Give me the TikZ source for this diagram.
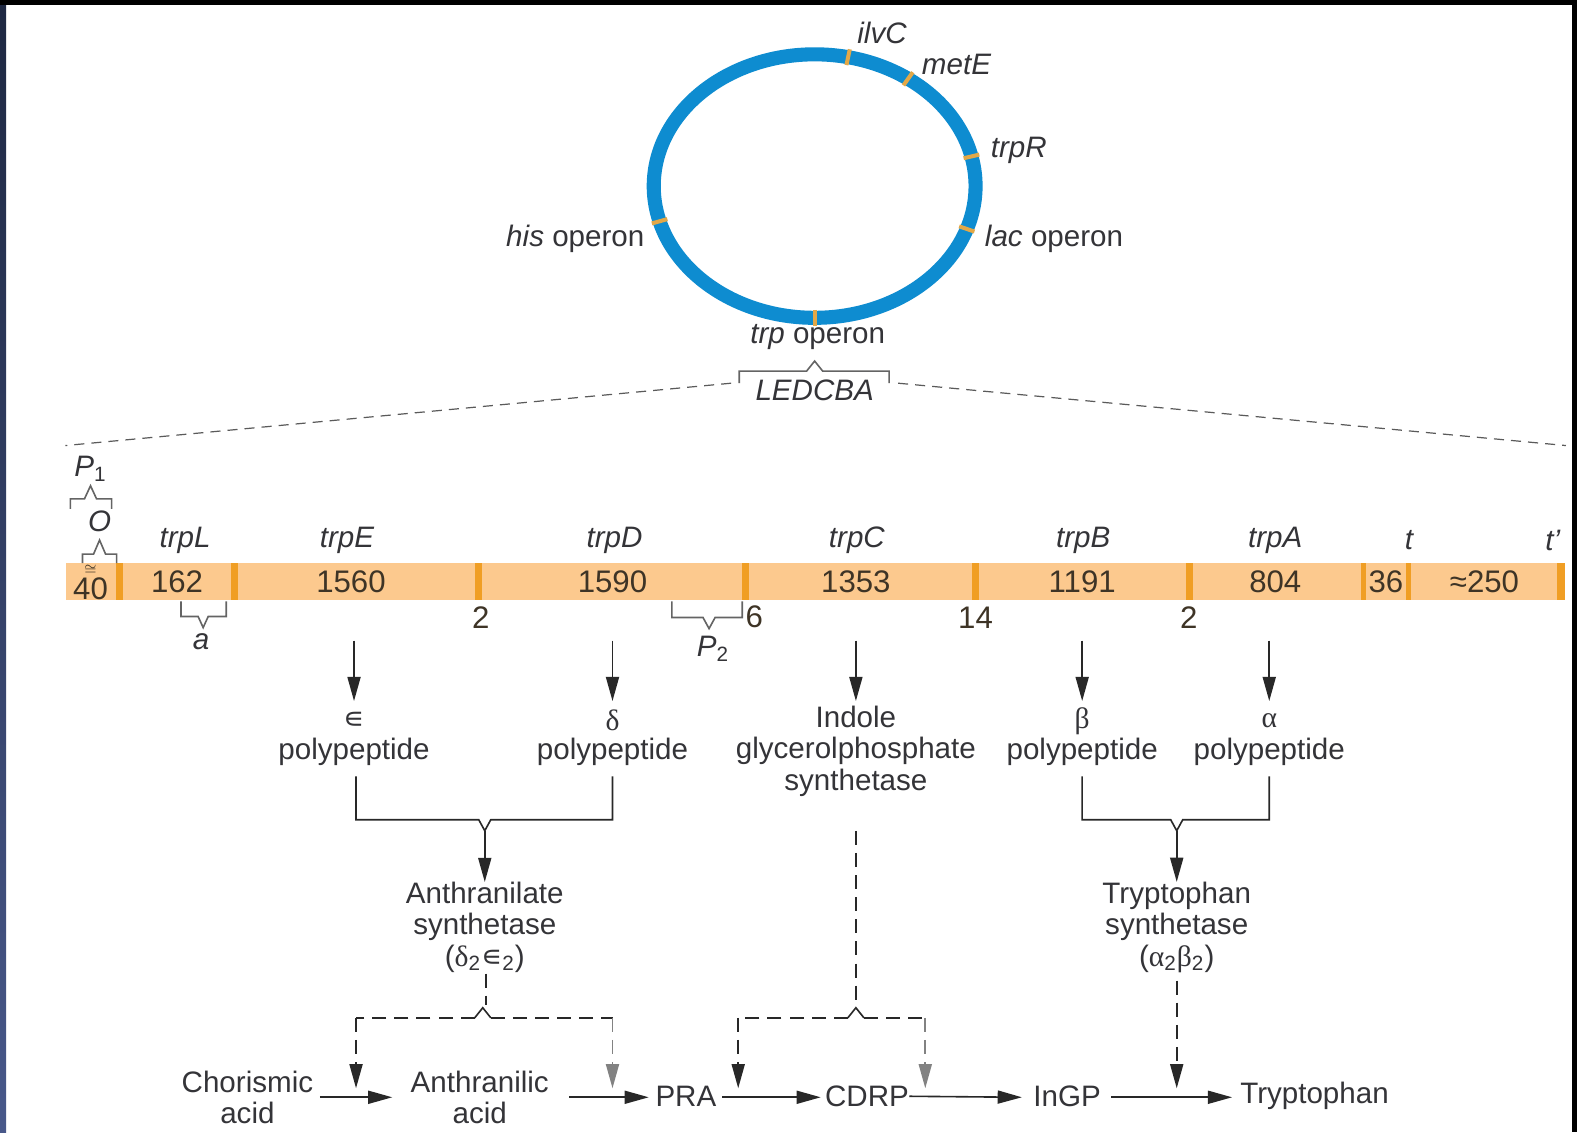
\documentclass[tikz,border=0pt]{standalone}
\usepackage{fontspec}
\setmainfont{Liberation Sans}
\newfontfamily\grk{Liberation Serif}
\newfontfamily\djv{DejaVu Sans}
\usetikzlibrary{arrows.meta}
\definecolor{ringblue}{RGB}{14,140,208}
\definecolor{tickor}{RGB}{226,168,72}
\definecolor{barfill}{RGB}{252,201,142}
\definecolor{bardiv}{RGB}{240,158,36}
\definecolor{txt}{RGB}{52,52,56}
\definecolor{numtxt}{RGB}{62,52,38}
\definecolor{brkgray}{RGB}{100,100,100}
\definecolor{arrgray}{RGB}{40,40,40}
\definecolor{lightarr}{RGB}{130,130,130}
\definecolor{zoomgray}{RGB}{90,90,90}
\newcommand\myfs{\fontsize{14.7}{15.5}\selectfont}
\tikzset{
  lbl/.style={text=txt, inner sep=0pt, align=center, font=\myfs},
  gname/.style={text=txt, inner sep=0pt, font={\myfs\itshape}},
  num/.style={text=numtxt, inner sep=0pt, font={\fontsize{15.5}{16}\selectfont}},
  brk/.style={draw=brkgray, line width=0.8pt},
  arr/.style={draw=arrgray, line width=0.8pt, -{Triangle[length=12pt,width=6.5pt]}},
  dsh/.style={draw=arrgray, line width=0.8pt, dash pattern=on 7pt off 4pt},
  dsharr/.style={dsh, -{Triangle[length=12pt,width=6.5pt]}},
  zoomln/.style={draw=zoomgray, line width=0.6pt, dash pattern=on 5pt off 3.5pt},
}
\begin{document}
\begin{tikzpicture}[x=0.5pt,y=-0.5pt]
\useasboundingbox (0,0) rectangle (1568,1126);
% frame
\fill[black] (0,0) rectangle (1568,1126);
\fill[white] (6,5) rectangle (1563,1126);
\shade[top color={rgb,255:red,30;green,40;blue,66}, bottom color={rgb,255:red,72;green,88;blue,138}] (0,5) rectangle (6,1126);

% chromosome ring
\draw[ringblue, line width=7pt] (810,185) ellipse [x radius=80pt, y radius=65.5pt];
\foreach \a in {78,54.5,13,-19,-90,195.5}
  \draw[tickor, line width=2pt] ({810+152*cos(\a)},{185-123*sin(\a)}) -- ({810+168*cos(\a)},{185-139*sin(\a)});
\node[gname] (ilvC) at (877,33) {ilvC};
\node[gname] (metE) at (951,64) {metE};
\node[gname] (trpR) at (1013,150) {trpR};
\node[lbl] (lac) at (1048,237) {\textit{lac} operon};
\node[lbl] (his) at (572,237) {\textit{his} operon};
\node[lbl] (trpop) at (813,335) {\textit{trp} operon};

% brace under trp operon
\coordinate (bl) at (735,381);
\coordinate (br) at (884,381);
\draw[brk] (bl) -- (735,369) -- (802,369) -- (810,359) -- (818,369) -- (884,369) -- (br);
\node[gname] (ledcba) at (810,388) {LEDCBA};

% zoom lines
\coordinate (zl) at (65,443);
\coordinate (zr) at (1557,443);
\coordinate (zbl) at (727,381);
\coordinate (zbr) at (893,381);
\draw[zoomln] (zbl) -- (zl);
\draw[zoomln] (zbr) -- (zr);

% gene bar
\fill[barfill] (66,560) rectangle (1556,597);
\foreach \x in {119,233,476,741,970,1183}
  \fill[bardiv] (\x-3.5,560) rectangle (\x+3.5,597);
\foreach \x in {1356,1400}
  \fill[bardiv] (\x-2.5,560) rectangle (\x+2.5,597);
\fill[bardiv] (1548,560) rectangle (1556,597);

% numbers in bar
\node[num, anchor=base] (n40) at (90,596) {\shortstack{{\scriptsize$\cong$}\\[-1.5pt]40}};
\node[num] (n162) at (176,578) {162};
\node[num] (n1560) at (349,578) {1560};
\node[num] (n1590) at (609,578) {1590};
\node[num] (n1353) at (851,578) {1353};
\node[num] (n1191) at (1076,578) {1191};
\node[num] (n804) at (1268,578) {804};
\node[num] (n36) at (1378,578) {36};
\node[num] (n250) at (1476,578) {≈250};

% gene names
\node[gname] (gL) at (184,537) {trpL};
\node[gname] (gE) at (345,537) {trpE};
\node[gname] (gD) at (611,537) {trpD};
\node[gname] (gC) at (852,537) {trpC};
\node[gname] (gB) at (1077,537) {trpB};
\node[gname] (gA) at (1268,537) {trpA};
\node[gname] (gt) at (1401,537) {t};
\node[gname] (gtp) at (1544,537) {t'};

% intergenic numbers
\node[num] (i1) at (478,614) {2};
\node[num] (i2) at (750,613) {6};
\node[num] (i3) at (970,614) {14};
\node[num] (i4) at (1182,614) {2};

% P1 and O brackets
\node[text=txt, inner sep=0pt, font=\myfs] (P1) at (90,466) {\textit{P}\textsubscript{1}};
\draw[brk] (70,506) -- (70,496) -- (84,496) -- (90,483) -- (96,496) -- (111,496) -- (111,506);
\node[gname] (O) at (99,518) {O};
\draw[brk] (82,560) -- (82,551) -- (93,551) -- (99,537) -- (105,551) -- (116,551) -- (116,560);

% a bracket
\draw[brk] (180,598) -- (180,613) -- (197,613) -- (202,624) -- (207,613) -- (225,613) -- (225,598);
\node[gname] (a) at (200,638) {a};

% P2 bracket
\draw[brk] (668,598) -- (668,614) -- (699,614) -- (705,625) -- (711,614) -- (738,614) -- (738,598);
\node[text=txt, inner sep=0pt, font=\myfs] (P2) at (709,645) {\textit{P}\textsubscript{2}};

% down arrows from genes
\foreach \x/\n in {352/dE,609/dD,851/dC,1076/dB,1262/dA}{
  \coordinate (\n s) at (\x,637);
  \coordinate (\n e) at (\x,697);
  \draw[arr] (\n s) -- (\n e);
}

% polypeptide labels
\node[lbl, font=\djv\myfs] (gkE) at (352,716) {∊};
\node[lbl] (pE) at (352,748) {polypeptide};
\node[lbl, font=\grk\myfs] (gkD) at (609,716) {δ};
\node[lbl] (pD) at (609,748) {polypeptide};
\node[lbl] (pC) at (851,747) {Indole\\glycerolphosphate\\synthetase};
\node[lbl, font=\grk\myfs] (gkB) at (1076,717) {β};
\node[lbl] (pB) at (1076,748) {polypeptide};
\node[lbl, font=\grk\myfs] (gkA) at (1262,717) {α};
\node[lbl] (pA) at (1262,748) {polypeptide};

% joining brackets
\coordinate (jl) at (482,826);
\coordinate (jr) at (1170,826);
\draw[arrgray, line width=0.8pt] (354,772) -- (354,815) -- (476,815) -- (jl) -- (488,815) -- (609,815) -- (609,772);
\draw[arrgray, line width=0.8pt] (1076,772) -- (1076,815) -- (1164,815) -- (jr) -- (1176,815) -- (1262,815) -- (1262,772);
\node[lbl] (AS) at (482,922) {Anthranilate\\synthetase\\({\grk δ}\textsubscript{2}{\djv ∊}\textsubscript{2})};
\node[lbl] (TS) at (1170,922) {Tryptophan\\synthetase\\({\grk α}\textsubscript{2}{\grk β}\textsubscript{2})};
\draw[arr] (jl) -- (AS.north);
\draw[arr] (jr) -- (TS.north);

% dashed control lines
\draw[dsh] (483,968) -- (483,999);
\draw[arrgray, line width=0.8pt] (472,1012) -- (480,1002) -- (488,1012);
\draw[dsh] (472,1012) -- (354,1012);
\draw[dsh] (488,1012) -- (609,1012);
\draw[dsharr] (354,1012) -- (354,1082);
\draw[dsharr, draw=lightarr] (609,1012) -- (609,1082);

\draw[dsh] (851,826) -- (851,1000);
\draw[arrgray, line width=0.8pt] (843,1012) -- (851,1002) -- (859,1012);
\draw[dsh] (843,1012) -- (734,1012);
\draw[dsh] (859,1012) -- (920,1012);
\draw[dsharr] (734,1012) -- (734,1082);
\draw[dsharr, draw=lightarr] (920,1012) -- (920,1082);

\draw[dsharr] (1170,975) -- (1170,1082);

% pathway
\node[lbl] (cho) at (246,1091) {Chorismic\\acid};
\node[lbl] (ant) at (477,1091) {Anthranilic\\acid};
\node[lbl] (pra) at (682,1090) {PRA};
\node[lbl] (cdrp) at (862,1090) {CDRP};
\node[lbl] (ingp) at (1061,1090) {InGP};
\node[lbl] (trp) at (1307,1090) {Tryptophan};
\draw[arr] (318,1091) -- (390,1091);
\draw[arr] (566,1091) -- (645,1091);
\draw[arr] (718,1091) -- (816,1091);
\draw[arr] (cdrp.east) -- (1016,1091);
\draw[arr] (1105,1091) -- (1225,1091);
\end{tikzpicture}
\end{document}
